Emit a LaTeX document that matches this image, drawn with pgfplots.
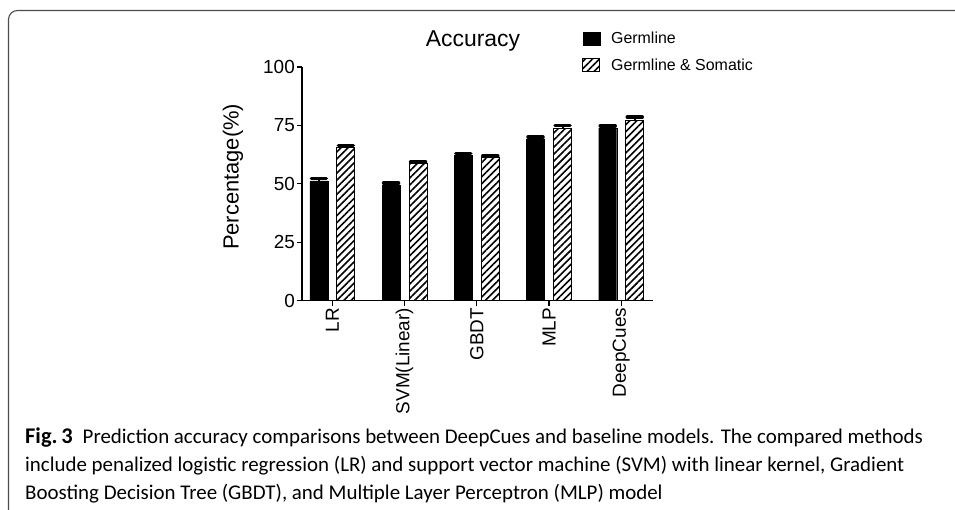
\documentclass[border=0pt]{standalone}
\usepackage{pgfplots}
\pgfplotsset{compat=1.18}
\usetikzlibrary{patterns.meta}
\usepackage{fontspec}
\setmainfont{Liberation Sans}
\newfontfamily\capfont{Carlito}
\begin{document}
\begin{tikzpicture}[x=1bp,y=1bp]
\useasboundingbox (0,0) rectangle (955,-510);
\draw[black!70, line width=1.1bp, rounded corners=9bp] (8.5,-530) -- (8.5,-10.5) -- (970,-10.5);
\begin{axis}[
  at={(302bp,-300.7bp)}, anchor=south west,
  scale only axis, width=351bp, height=233.7bp,
  xmin=-0.42, xmax=4.44, ymin=0, ymax=100,
  axis lines=left, axis line style={-, line width=1.2bp, black},
  ytick={0,25,50,75,100},
  xtick={0,1,2,3,4},
  xticklabels={LR,SVM(Linear),GBDT,MLP,DeepCues},
  tick align=outside, major tick length=5bp,
  tick style={line width=1.2bp, black},
  /pgf/number format/assume math mode=true,
  ticklabel style={font=\fontsize{19}{22}\selectfont},
  x tick label style={rotate=90, anchor=east, inner sep=2bp},
  y tick label style={inner sep=2bp},
  ylabel={Percentage(\%)},
  ylabel style={font=\fontsize{22}{26}\selectfont, at={(axis description cs:-0.197,0.53)}, rotate=0, anchor=center},
  title={Accuracy},
  title style={font=\fontsize{23}{27}\selectfont, at={(axis description cs:0.487,1.061)}, anchor=base},
  ybar=9bp, bar width=18bp,
  legend style={at={(axis description cs:0.798,1.152)}, anchor=north west, draw=none, fill=none, inner sep=0pt,
    font=\fontsize{16}{19}\selectfont, row sep=13bp, nodes={inner sep=0pt, anchor=west}},
  legend cell align=left,
  legend image code/.code={\draw[#1] (0bp,-6.5bp) rectangle (17bp,6.5bp);},
  error bars/y dir=plus, error bars/y explicit,
  error bars/error mark=|,
  error bars/error bar style={line width=2bp, black, solid},
  error bars/error mark options={line width=3.5bp, mark size=7.5bp, black, solid, line cap=round},
]
\addplot[fill=black, draw=black] coordinates {
  (0,51.3) +- (0,0.9)
  (1,49.4) +- (0,0.9)
  (2,62.2) +- (0,0.8)
  (3,69.2) +- (0,0.8)
  (4,73.8) +- (0,1.0)
};
\addlegendentry{\hspace{11bp}Germline}
\addplot[draw=black, line width=0.8bp, fill=white, pattern={Lines[angle=45, distance=5bp, line width=1.6bp]}] coordinates {
  (0,65.6) +- (0,0.8)
  (1,58.6) +- (0,0.8)
  (2,61.2) +- (0,0.8)
  (3,73.8) +- (0,1.1)
  (4,77.3) +- (0,1.2)
};
\addlegendentry{\hspace{11bp}Germline \& Somatic}
\end{axis}
\begin{scope}[every node/.style={anchor=base west, inner sep=0pt, font=\capfont\fontsize{21}{25}\selectfont}]
\node at (25,-443.3) {{\fontsize{22.5}{25}\selectfont\textbf{Fig.\,3}}\hspace{10bp}Prediction accuracy comparisons between DeepCues and baseline models. The compared methods};
\node at (25,-471.7) {include penalized logistic regression (LR) and support vector machine (SVM) with linear kernel, Gradient};
\node at (25,-499) {Boosting Decision Tree (GBDT), and Multiple Layer Perceptron (MLP) model};
\end{scope}
\end{tikzpicture}
\end{document}
